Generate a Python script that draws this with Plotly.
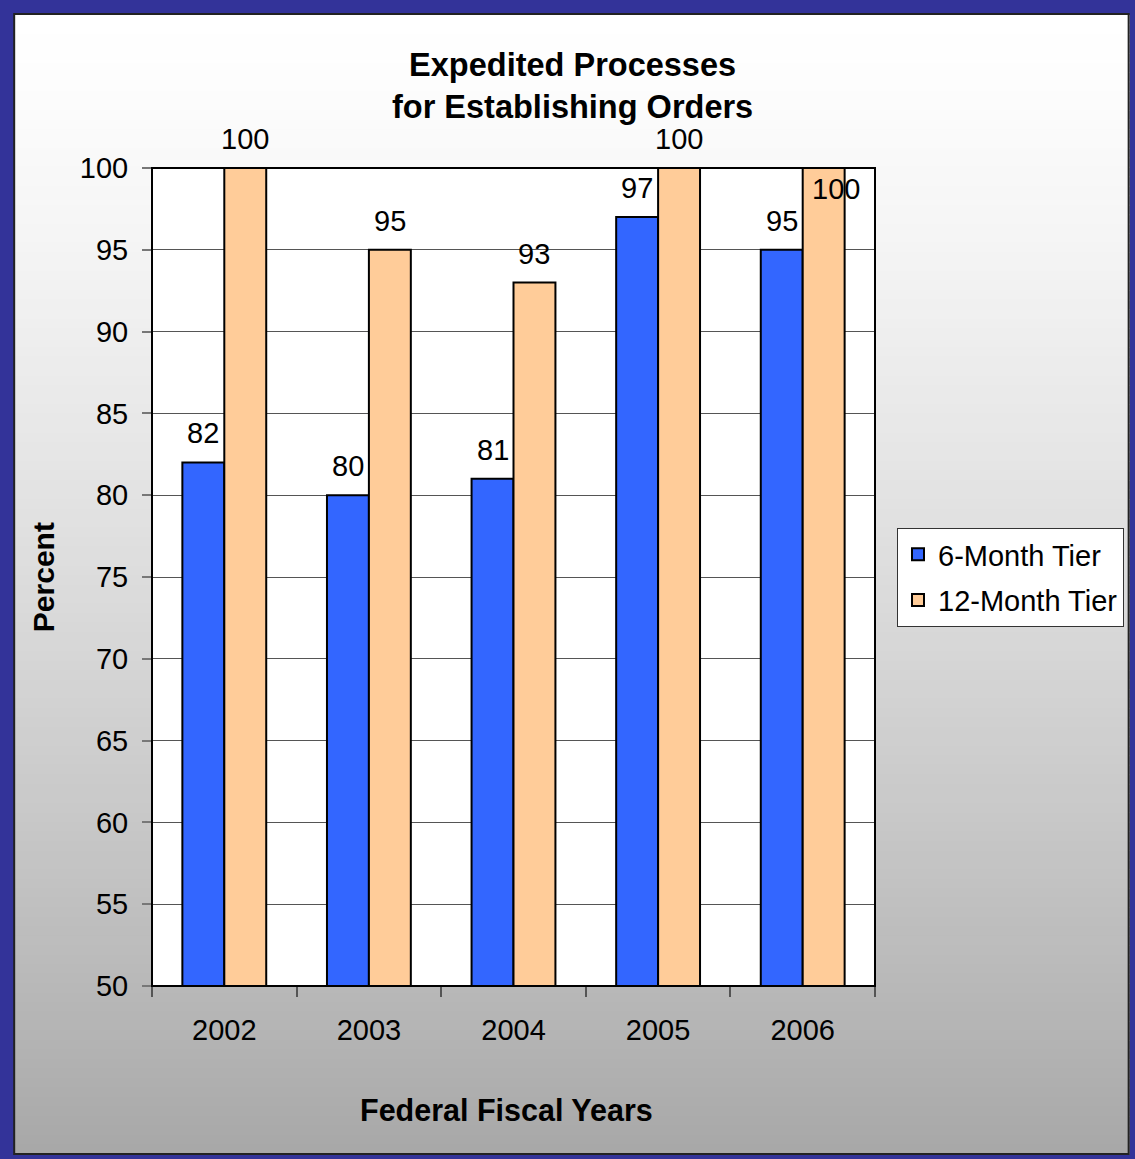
import plotly.graph_objects as go

# Data
years = ["2002", "2003", "2004", "2005", "2006"]
six_month = [82, 80, 81, 97, 95]
twelve_month = [100, 95, 93, 100, 100]
series_names = ["6-Month Tier", "12-Month Tier"]
series_colors = ["#3366FF", "#FFCC99"]
y_ticks = [50, 55, 60, 65, 70, 75, 80, 85, 90, 95, 100]

# Page geometry (pixels)
W, H = 1135, 1159
PL, PR, PT, PB = 152, 876, 168, 986  # plot area edges
FONT = "Arial, Liberation Sans, sans-serif"
FS = 29


def px_x(px):
    return (px - PL) / (PR - PL)


def px_y(py):
    return (PB - py) / (PB - PT)


fig = go.Figure()
for name, vals, col in zip(series_names, [six_month, twelve_month], series_colors):
    fig.add_trace(go.Bar(
        x=years, y=vals, name=name, legendgroup=name,
        marker=dict(color=col, line=dict(color="black", width=2)),
        hoverinfo="skip",
    ))

shapes = []
# gradient background (white at top to gray at bottom)
top, bot, n = 15, 1154, 120
step = (bot - top) / n
for i in range(n):
    t = (i + 0.5) / n
    g = round(255 - 87 * t ** 1.3)
    y0 = top + i * step
    y1 = y0 + step + 0.8
    shapes.append(dict(type="rect", xref="paper", yref="paper", layer="below",
                       x0=px_x(14), x1=px_x(1131), y0=px_y(y1), y1=px_y(y0),
                       fillcolor=f"rgb({g},{g},{g})", line=dict(width=0)))
# white plot area
shapes.append(dict(type="rect", xref="paper", yref="paper", layer="below",
                   x0=0, x1=1, y0=0, y1=1, fillcolor="white", line=dict(width=0)))
# inner dark frame
shapes.append(dict(type="rect", xref="paper", yref="paper", layer="above",
                   x0=px_x(14), x1=px_x(1130), y0=px_y(1154), y1=px_y(14),
                   fillcolor="rgba(0,0,0,0)", line=dict(color="#222222", width=2)))
# plot frame
shapes.append(dict(type="rect", xref="paper", yref="paper", layer="above",
                   x0=0, x1=1, y0=0, y1=1,
                   fillcolor="rgba(0,0,0,0)", line=dict(color="black", width=2)))

# value labels above the bars
annotations = []
label_nudge = {("12-Month Tier", "2006"): (12, -21)}
half_bar = (PR - PL) / len(years) * 0.58 / 4
for k, (name, vals) in enumerate(zip(series_names, [six_month, twelve_month])):
    offset = -half_bar if k == 0 else half_bar
    for i, v in enumerate(vals):
        dx, dy = label_nudge.get((name, years[i]), (0, 29))
        annotations.append(dict(x=i, y=v, xref="x", yref="y", text=str(v),
                                showarrow=False, xshift=offset + dx, yshift=dy,
                                yanchor="middle", font=dict(family=FONT, size=FS, color="black")))

# titles
annotations.append(dict(x=px_x(573), y=px_y(86), xref="paper", yref="paper",
                        text="<b>Expedited Processes<br>for Establishing Orders</b>",
                        showarrow=False, yanchor="middle", xanchor="center",
                        font=dict(family=FONT, size=32.5, color="black")))
annotations.append(dict(x=px_x(507), y=px_y(1110), xref="paper", yref="paper",
                        text="<b>Federal Fiscal Years</b>", showarrow=False,
                        yanchor="middle", xanchor="center",
                        font=dict(family=FONT, size=30.5, color="black")))
annotations.append(dict(x=px_x(43), y=px_y(577), xref="paper", yref="paper",
                        text="<b>Percent</b>", showarrow=False, textangle=-90,
                        yanchor="middle", xanchor="center",
                        font=dict(family=FONT, size=30, color="black")))

fig.update_layout(
    width=W, height=H,
    margin=dict(l=PL, r=W - PR, t=PT, b=H - PB, pad=0),
    paper_bgcolor="#333399",
    plot_bgcolor="white",
    barmode="group", bargap=0.42, bargroupgap=0,
    font=dict(family=FONT, size=FS, color="black"),
    showlegend=True,
    legend=dict(x=px_x(897), y=px_y(528), xanchor="left", yanchor="top",
                bgcolor="white", bordercolor="#333333", borderwidth=1,
                font=dict(family=FONT, size=29, color="black"),
                traceorder="grouped", tracegroupgap=5),
    shapes=shapes,
    annotations=annotations,
    xaxis=dict(type="category", showgrid=False, ticks="outside", tickson="boundaries",
               ticklen=10, tickcolor="#555555", tickwidth=1.5, tickangle=0,
               tickfont=dict(family=FONT, size=FS, color="black"),
               ticklabelstandoff=24,
               showline=False, zeroline=False, fixedrange=True),
    yaxis=dict(range=[50, 100], tickvals=y_ticks,
               showgrid=True, gridcolor="#555555", gridwidth=1,
               ticks="outside", ticklen=9, tickcolor="#777777", tickwidth=1.5,
               tickfont=dict(family=FONT, size=FS, color="black"),
               ticklabelstandoff=8,
               showline=False, zeroline=False, fixedrange=True),
)

fig.write_html("out.html")
